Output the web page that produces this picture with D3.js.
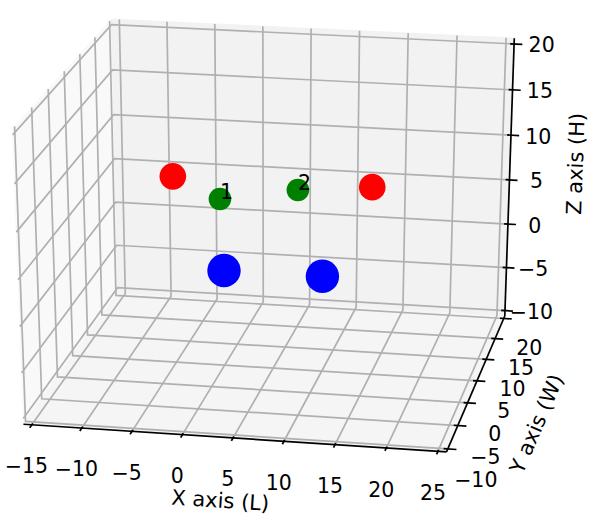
<!DOCTYPE html>
<html><head><meta charset="utf-8">
<style>html,body{margin:0;background:#fff}svg{display:block}text{font-family:"DejaVu Sans",sans-serif;fill:#000}</style>
</head><body><svg id="chart" width="598" height="522"></svg>
<script src="https://cdnjs.cloudflare.com/ajax/libs/d3/7.8.5/d3.min.js"></script>
<script>
// Axis limits and tick values
const xLimits = [-15, 25];
const yLimits = [-10, 20];
const zLimits = [-10, 20];
const xTicks = [-15, -10, -5, 0, 5, 10, 15, 20, 25];
const yTicks = [-10, -5, 0, 5, 10, 15, 20];
const zTicks = [-10, -5, 0, 5, 10, 15, 20];

// Point groups
const redX = [-5.1, 14.9], redY = [5, 5], redZ = [10, 10];
const greenX = [1, 8.7], greenY = [0, 0], greenZ = [10, 11.4];
const blueX = [0, 10], blueY = [5, 5], blueZ = [0, 0];
const pointLabels = ["1", "2"];

// Camera
const elev = 23.6, azim = -79.3, dist = 10;
const kx = 4032, ky = 2999, cx = 273.1, cy = 227.9;

const FONT = 20.5, AXIS_FONT = 21, GRID = "#b0b0b0", LW = 1.7;

// Data to unit cube, with the usual 1/48 pane margin beyond the limits
const sx = d3.scaleLinear().domain(xLimits).range([-0.5, 0.5]);
const sy = d3.scaleLinear().domain(yLimits).range([-0.5, 0.5]);
const sz = d3.scaleLinear().domain(zLimits).range([-0.5, 0.5]);
const M = 0.5 + 1 / 48;

const e = elev * Math.PI / 180, a = azim * Math.PI / 180;
const n = [Math.cos(a) * Math.cos(e), Math.sin(a) * Math.cos(e), Math.sin(e)];
const hyp = Math.hypot(n[0], n[1]);
const u = [-n[1] / hyp, n[0] / hyp, 0];
const v = [-n[2] * u[1], n[2] * u[0], n[0] * u[1] - n[1] * u[0]];
const dot = (A, B) => A[0] * B[0] + A[1] * B[1] + A[2] * B[2];

// Perspective projection of cube coordinates onto the page
function project(w) {
  const d = dist - dot(n, w);
  return [cx + kx * dot(u, w) / d, cy - ky * dot(v, w) / d];
}
const line3d = d3.line().x(d => d[0]).y(d => d[1]);
const svg = d3.select("#chart");
const path3d = (g, ws, stroke, width, fill) => g.append("path")
  .attr("d", line3d(ws.map(project)) + (fill ? "Z" : ""))
  .attr("fill", fill || "none").attr("stroke", stroke).attr("stroke-width", width);

// Panes
const panes = svg.append("g");
path3d(panes, [[-M,-M,-M],[-M,M,-M],[-M,M,M],[-M,-M,M]], "#f9f9f9", 1, "#f9f9f9");
path3d(panes, [[-M,M,-M],[M,M,-M],[M,M,M],[-M,M,M]], "#f2f2f2", 1, "#f2f2f2");
path3d(panes, [[-M,-M,-M],[M,-M,-M],[M,M,-M],[-M,M,-M]], "#f5f5f5", 1, "#f5f5f5");

// Grid lines wrap around the three visible panes
const grid = svg.append("g");
xTicks.forEach(t => { const x = sx(t); path3d(grid, [[x,-M,-M],[x,M,-M],[x,M,M]], GRID, LW); });
yTicks.forEach(t => { const y = sy(t); path3d(grid, [[M,y,-M],[-M,y,-M],[-M,y,M]], GRID, LW); });
zTicks.forEach(t => { const z = sz(t); path3d(grid, [[-M,-M,z],[-M,M,z],[M,M,z]], GRID, LW); });

// Axis lines, tick marks and tick labels
const axes = svg.append("g");
const label = (g, w, text, rot, size) => {
  const p = project(w);
  g.append("text").attr("font-size", size || FONT).attr("text-anchor", "middle")
    .attr("dominant-baseline", "central")
    .attr("transform", `translate(${p[0]},${p[1]})` + (rot ? `rotate(${rot})` : "")).text(text);
};
const fmt = t => (t < 0 ? "\u2212" + (-t) : "" + t);
const angle = (A, B) => { const p = project(A), q = project(B); return Math.atan2(q[1] - p[1], q[0] - p[0]) * 180 / Math.PI; };
const TIN = 0.01, TOUT = 0.021;

path3d(axes, [[-M,-M,-M],[M,-M,-M]], "#000", LW);
xTicks.forEach(t => {
  const x = sx(t);
  path3d(axes, [[x,-M+TIN,-M],[x,-M-TOUT,-M]], "#000", LW);
  label(axes, [x,-M-0.067,-M-0.117], fmt(t));
});
path3d(axes, [[M,-M,-M],[M,M,-M]], "#000", LW);
yTicks.forEach(t => {
  const y = sy(t);
  path3d(axes, [[M-TIN,y,-M],[M+TOUT,y,-M]], "#000", LW);
  label(axes, [M+0.07,y,-M-0.108], fmt(t));
});
path3d(axes, [[M,M,-M],[M,M,M]], "#000", LW);
zTicks.forEach(t => {
  const z = sz(t);
  path3d(axes, [[M-TIN,M,z],[M+TOUT,M,z]], "#000", LW);
  label(axes, [M+0.07,M,z], fmt(t));
});
label(axes, [sx(5),-M-0.16,-M-0.145], "X axis (L)", angle([-M,-M,-M],[M,-M,-M]), AXIS_FONT);
label(axes, [M+0.155,sy(5),-M-0.148], "Y axis (W)", angle([M,-M,-M],[M,M,-M]), AXIS_FONT);
label(axes, [M+0.155,M+0.137,sz(5.5)], "Z axis (H)", angle([M,M,-M],[M,M,M]), AXIS_FONT);

// Points
const marks = svg.append("g");
const scatter = (xs, ys, zs, color, r) => xs.forEach((x, i) => {
  const p = project([sx(x), sy(ys[i]), sz(zs[i])]);
  marks.append("circle").attr("cx", p[0]).attr("cy", p[1]).attr("r", r).attr("fill", color);
});
scatter(redX, redY, redZ, "#ff0000", 13.3);
scatter(greenX, greenY, greenZ, "#008000", 11.3);
scatter(blueX, blueY, blueZ, "#0000ff", 16.7);
pointLabels.forEach((t, i) => {
  const p = project([sx(greenX[i]), sy(greenY[i]), sz(greenZ[i])]);
  marks.append("text").attr("x", p[0]).attr("y", p[1]).attr("font-size", FONT).text(t);
});
</script></body></html>
